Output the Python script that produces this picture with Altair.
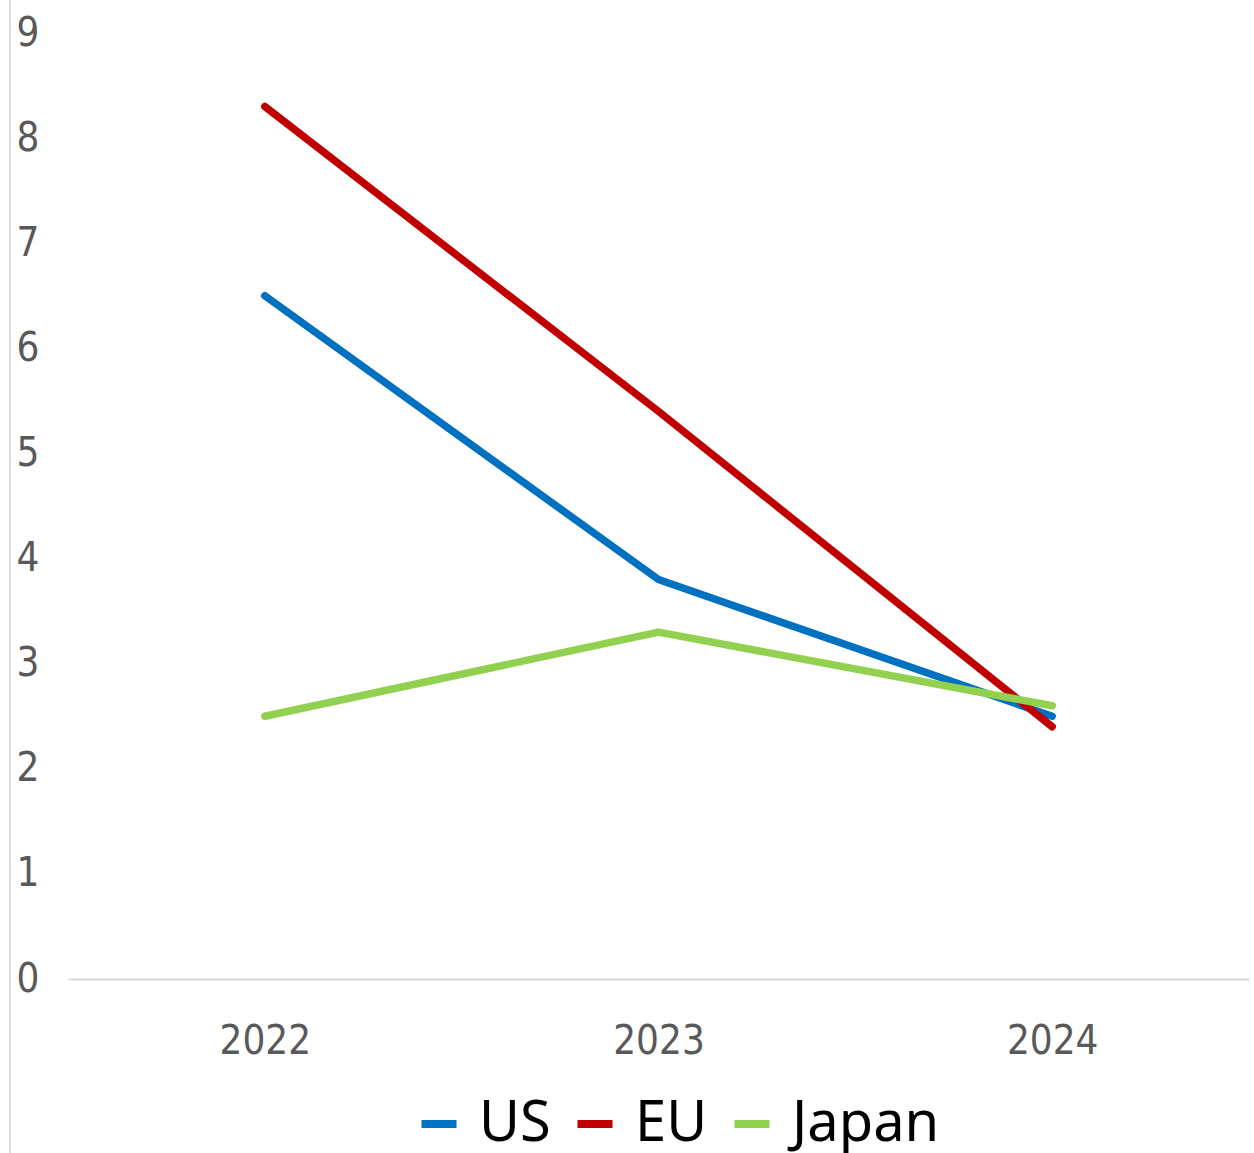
import altair as alt
import pandas as pd

years = ["2022", "2023", "2024"]
us = [6.5, 3.8, 2.5]
eu = [8.3, 5.4, 2.4]
japan = [2.5, 3.3, 2.6]
series = ["US", "EU", "Japan"]
colors = ["#0070C0", "#C00000", "#92D050"]
y_ticks = [0, 1, 2, 3, 4, 5, 6, 7, 8, 9]

rows = []
for name, vals in zip(series, [us, eu, japan]):
    for yr, v in zip(years, vals):
        rows.append({"year": yr, "value": v, "series": name})
df = pd.DataFrame(rows)

W, H = 1181, 946
axis_font = "DejaVu Sans Condensed, Liberation Sans Narrow, Arial Narrow, sans-serif"

lines = alt.Chart(df).mark_line(strokeWidth=7.5, strokeCap="round", strokeJoin="round").encode(
    x=alt.X("year:O", sort=years, scale=alt.Scale(type="point", padding=0.5),
            axis=alt.Axis(title=None, labelAngle=0, ticks=False, domain=True,
                          domainColor="#d9d9d9", domainWidth=2, labelPadding=42,
                          labelFontSize=40, labelFont=axis_font, labelColor="#595959")),
    y=alt.Y("value:Q", scale=alt.Scale(domain=[0, 9], nice=False, zero=True),
            axis=alt.Axis(title=None, values=y_ticks, grid=False, ticks=False, domain=False,
                          labelPadding=29, labelFontSize=40, labelFont=axis_font,
                          labelColor="#595959")),
    color=alt.Color("series:N", sort=series,
                    scale=alt.Scale(domain=series, range=colors),
                    legend=alt.Legend(title=None, orient="none", direction="horizontal",
                                      legendX=343, legendY=1063,
                                      symbolType="stroke", symbolSize=1225,
                                      symbolStrokeWidth=8, labelFontSize=56,
                                      labelFont="Noto Sans", labelColor="#000000",
                                      labelOffset=12, columnPadding=10, labelLimit=400)),
    order=alt.Order("year:O"),
)

border = alt.Chart(pd.DataFrame({"a": [0]})).mark_rule(color="#d9d9d9", strokeWidth=2).encode(
    x=alt.value(-58), y=alt.value(-40), y2=alt.value(1200)
)

chart = alt.layer(border, lines).properties(
    width=W, height=H,
    autosize=alt.AutoSizeParams(type="none"),
    padding={"left": 68, "top": 33, "right": 5, "bottom": 174},
    background="white",
).configure_view(stroke=None, strokeWidth=0)

chart.save("out.html", embed_options={"renderer": "svg", "actions": False})
